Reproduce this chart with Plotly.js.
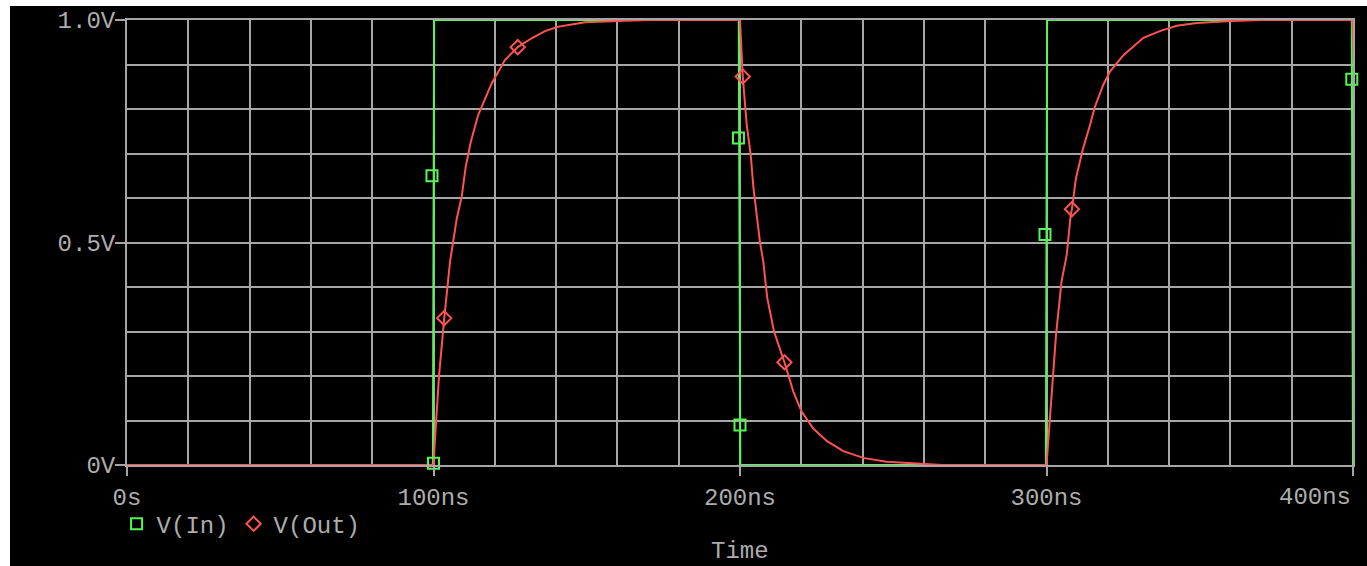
<!DOCTYPE html>
<html>
<head>
<meta charset="utf-8">
<script src="https://cdn.plot.ly/plotly-3.0.1.min.js"></script>
<style>
  html, body { margin: 0; padding: 0; background: #ffffff; width: 1367px; height: 566px; overflow: hidden; }
  #chart { position: absolute; left: 10px; top: 6px; width: 1357px; height: 560px; }
</style>
</head>
<body>
<div id="chart"></div>
<script>
// V(In) trace (time in ns, volts)
const inTime = [0, 99.8, 100.2, 199.6, 200.1, 299.8, 300.2, 399.6, 400];
const inVolt = [0, 0, 1, 1, 0, 0, 1, 1, 0];
// V(In) marker points
const inMarkTime = [100, 99.5, 199.5, 200, 299.5, 399.6];
const inMarkVolt = [0.004, 0.65, 0.735, 0.09, 0.518, 0.867];

// V(Out) trace
const outTime = [0, 100, 100.7, 101.8, 103.5, 105.4, 107.6, 109.2, 110.5, 112.2, 114.6, 116.6, 119.0, 123.3, 127.5, 132.0, 136.4, 140.7, 144.5, 149.4, 160, 170,
  200, 200.9, 202.2, 203.5, 204.4, 205.4, 206.5, 207.6, 208.9, 211.1, 214.5, 217.4, 220.1, 223.9, 228.3, 233.7, 240.2, 247.8, 258.7, 266,
  300, 300.9, 303.1, 304.9, 306.6, 307.9, 308.3, 309.6, 311.8, 314.2, 315.8, 318.5, 320.7, 325.1, 331.6, 337.0, 342.5, 349.0, 360.4, 370, 399.8, 400.3];
const outVolt = [0, 0, 0.082, 0.20, 0.33, 0.457, 0.554, 0.603, 0.67, 0.727, 0.787, 0.82, 0.858, 0.91, 0.939, 0.959, 0.975, 0.985, 0.990, 0.995, 0.998, 1.0,
  1.0, 0.873, 0.764, 0.697, 0.622, 0.562, 0.502, 0.457, 0.375, 0.30, 0.231, 0.165, 0.12, 0.082, 0.054, 0.031, 0.016, 0.0075, 0.004, 0,
  0, 0.082, 0.292, 0.412, 0.472, 0.562, 0.575, 0.644, 0.708, 0.764, 0.805, 0.854, 0.884, 0.921, 0.96, 0.975, 0.987, 0.993, 0.998, 1.0, 1.0, 0.9];
// V(Out) marker points
const outMarkTime = [103.5, 127.5, 200.9, 214.5, 308.3];
const outMarkVolt = [0.33, 0.939, 0.873, 0.231, 0.575];

// Axis ticks and title
const xTickVals = [0, 100, 200, 300, 400];
const xTickText = ['0s', '100ns', '200ns', '300ns', '400ns'];
const yTickVals = [0, 0.5, 1.0];
const yTickText = ['0V', '0.5V', '1.0V'];
const xTitle = 'Time';

const GREEN = '#55f555';
const RED = '#ff5252';
const GRID = '#a6a6a6';
const TEXT = '#adadad';
const FONT = 'Liberation Mono, Courier New, monospace';

const traces = [
  { x: inTime, y: inVolt, mode: 'lines', line: { color: GREEN, width: 2 }, showlegend: false, hoverinfo: 'skip' },
  { x: outTime, y: outVolt, mode: 'lines', line: { color: RED, width: 2 }, showlegend: false, hoverinfo: 'skip' },
  { x: inMarkTime, y: inMarkVolt, mode: 'markers', name: 'V(In)',
    marker: { symbol: 'square-open', size: 11, color: GREEN, line: { width: 2, color: GREEN } }, cliponaxis: false },
  { x: outMarkTime, y: outMarkVolt, mode: 'markers', name: 'V(Out)',
    marker: { symbol: 'diamond-open', size: 11, color: RED, line: { width: 2, color: RED } }, cliponaxis: false }
];

// The last tick label sits to the left of its tick (right-aligned), as in the reference.
const lastIdx = xTickVals.length - 1;
const shownTickText = xTickText.map((t, i) => (i === lastIdx ? '' : t));

const layout = {
  width: 1357, height: 560,
  margin: { l: 117, r: 14, t: 14, b: 101 },
  paper_bgcolor: '#000000',
  plot_bgcolor: '#000000',
  font: { family: FONT, size: 24, color: TEXT },
  showlegend: true,
  legend: {
    orientation: 'h', x: -0.0085, xanchor: 'left', y: -0.133, yanchor: 'middle',
    bgcolor: 'rgba(0,0,0,0)', font: { family: FONT, size: 24, color: TEXT },
    itemclick: false, itemdoubleclick: false
  },
  annotations: [
    {
      x: xTickVals[lastIdx], xref: 'x', xanchor: 'right',
      y: 0, yref: 'paper', yanchor: 'top', yshift: -17,
      text: xTickText[lastIdx], showarrow: false,
      font: { family: FONT, size: 24, color: TEXT }
    },
    {
      x: 0.5, xref: 'paper', xanchor: 'center',
      y: 0, yref: 'paper', yanchor: 'top', yshift: -72, borderpad: 0,
      text: xTitle, showarrow: false,
      font: { family: FONT, size: 24, color: TEXT }
    }
  ],
  xaxis: {
    range: [0, 400], tickmode: 'array', tickvals: xTickVals, ticktext: shownTickText,
    ticks: 'outside', ticklen: 9, tickwidth: 2, tickcolor: GRID,
    showgrid: true, gridcolor: GRID, gridwidth: 2, zeroline: false,
    showline: true, linecolor: GRID, linewidth: 2, mirror: true,
    minor: { tickmode: 'linear', tick0: 0, dtick: 20, showgrid: true, gridcolor: GRID, gridwidth: 2, ticks: '' },
    tickfont: { family: FONT, size: 24, color: TEXT },
    fixedrange: true
  },
  yaxis: {
    range: [0, 1], tickmode: 'array', tickvals: yTickVals, ticktext: yTickText,
    ticks: 'outside', ticklen: 10, tickwidth: 2, tickcolor: GRID,
    ticklabelstandoff: -5,
    showgrid: true, gridcolor: GRID, gridwidth: 2, zeroline: false,
    showline: true, linecolor: GRID, linewidth: 2, mirror: true,
    minor: { tickmode: 'linear', tick0: 0, dtick: 0.1, showgrid: true, gridcolor: GRID, gridwidth: 2, ticks: '' },
    tickfont: { family: FONT, size: 24, color: TEXT },
    fixedrange: true
  }
};

Plotly.newPlot('chart', traces, layout, { displayModeBar: false, staticPlot: true });
</script>
</body>
</html>
